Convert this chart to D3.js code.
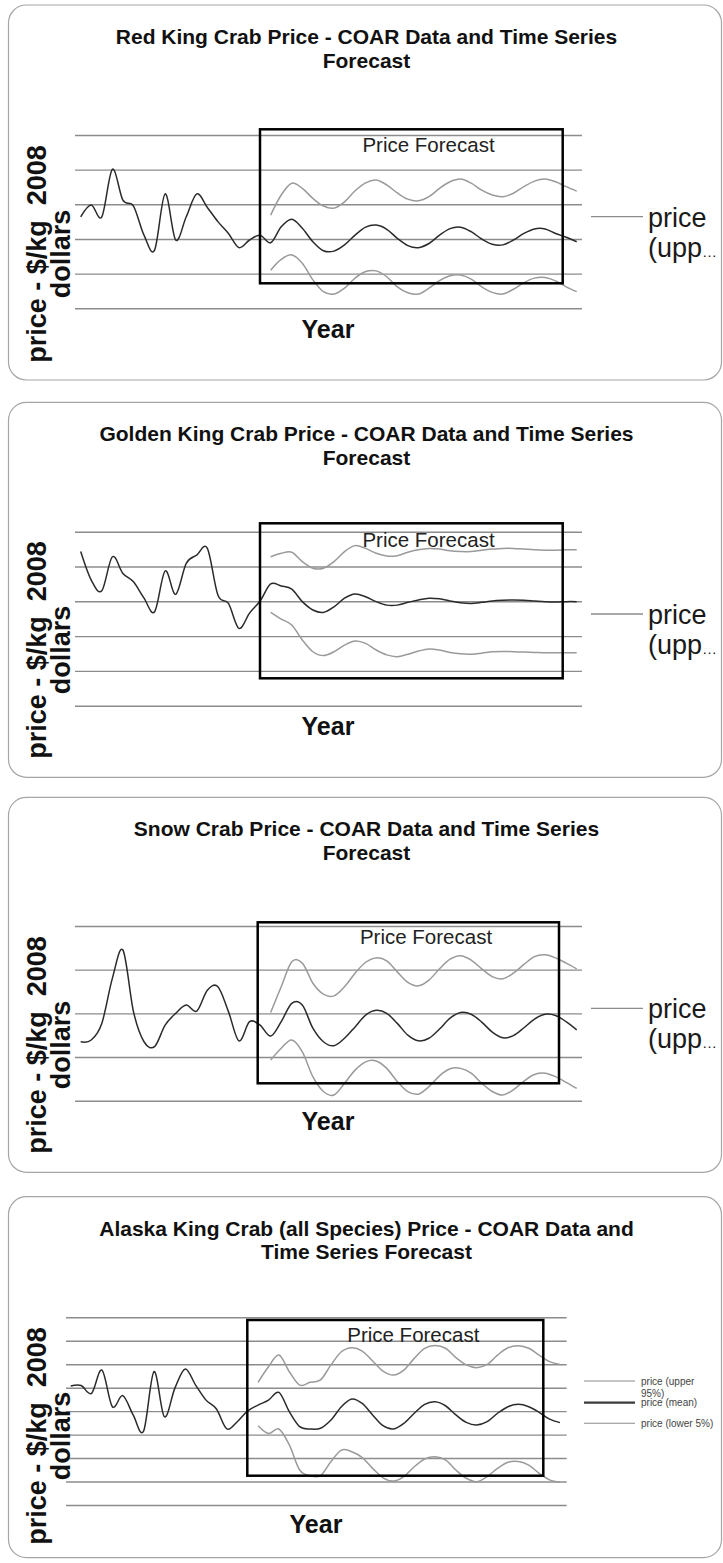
<!DOCTYPE html>
<html>
<head>
<meta charset="utf-8">
<script src="https://cdn.jsdelivr.net/npm/d3@7"></script>
<style>
  html, body { margin: 0; padding: 0; background: #fff; }
  svg { display: block; }
  text { font-family: "Liberation Sans", Arial, sans-serif; }
</style>
</head>
<body>
<svg id="chart" width="723" height="1563"></svg>
<script>
// ---------------- DATA (values in grid units; gridlines at tick values) ----------------
const years = d3.range(1990, 2038);          // 48 annual categories
const histYears = years.slice(0, 19);         // 1990 - 2008 (COAR data)
const meanFcYears = years.slice(19);          // 2009 - 2037 (forecast mean)
const bandYears = years.slice(18);            // 2008 - 2037 (upper / lower)

const redTicks = [0, 1, 2, 3, 4, 5];
const redHist = [2.64,2.98,2.64,4.01,3.12,2.95,2.11,1.68,3.30,1.97,2.64,3.30,2.91,2.50,2.16,1.75,1.97,2.11,1.89];
const redMean = [2.35,2.57,2.31,1.92,1.66,1.65,1.83,2.11,2.34,2.40,2.28,2.02,1.81,1.75,1.87,2.11,2.30,2.34,2.21,2.00,1.85,1.83,1.97,2.16,2.29,2.29,2.16,2.05,1.92];
const redUpper = [2.69,3.27,3.61,3.46,3.17,2.95,2.89,3.07,3.39,3.62,3.70,3.56,3.33,3.15,3.10,3.22,3.46,3.65,3.73,3.61,3.41,3.27,3.22,3.32,3.51,3.67,3.73,3.65,3.51,3.38];
const redLower = [1.10,1.41,1.54,1.30,0.82,0.48,0.41,0.58,0.87,1.06,1.08,0.91,0.62,0.45,0.41,0.58,0.80,0.94,0.96,0.84,0.62,0.46,0.41,0.55,0.74,0.87,0.89,0.79,0.62,0.48];

const goldenTicks = [0, 1, 2, 3, 4, 5];
const goldenHist = [4.43,3.61,3.30,4.28,3.80,3.56,3.09,2.70,3.87,3.20,4.09,4.33,4.52,3.18,2.94,2.22,2.66,3.01,3.50];
const goldenMean = [3.44,3.35,2.99,2.75,2.68,2.84,3.09,3.21,3.13,2.99,2.89,2.89,2.97,3.04,3.09,3.07,3.01,2.96,2.94,2.97,3.01,3.03,3.04,3.03,3.01,2.99,2.98,2.99,2.99];
const goldenUpper = [4.28,4.38,4.41,4.14,3.95,3.95,4.14,4.43,4.60,4.52,4.38,4.30,4.31,4.41,4.48,4.52,4.50,4.45,4.43,4.43,4.47,4.50,4.52,4.52,4.50,4.48,4.47,4.47,4.48,4.48];
const goldenLower = [2.68,2.49,2.32,1.89,1.55,1.44,1.55,1.74,1.86,1.79,1.60,1.46,1.41,1.48,1.57,1.63,1.60,1.53,1.49,1.48,1.51,1.55,1.56,1.55,1.54,1.53,1.52,1.52,1.52,1.52];

const snowTicks = [0, 1, 2, 3, 4];
const snowHist = [1.35,1.39,1.77,2.80,3.45,2.04,1.35,1.24,1.73,2.00,2.19,2.05,2.53,2.61,2.04,1.37,1.81,1.73,1.48];
const snowMean = [1.81,2.23,2.19,1.66,1.35,1.26,1.43,1.69,1.96,2.07,2.00,1.77,1.50,1.37,1.43,1.64,1.89,2.02,1.98,1.80,1.57,1.44,1.49,1.67,1.87,1.98,1.95,1.81,1.62];
const snowUpper = [2.02,2.61,3.18,3.15,2.69,2.44,2.40,2.61,2.92,3.17,3.27,3.20,2.95,2.71,2.63,2.76,3.02,3.24,3.32,3.22,3.02,2.84,2.79,2.92,3.12,3.30,3.34,3.27,3.15,3.02];
const snowLower = [0.93,1.20,1.39,1.12,0.55,0.21,0.13,0.40,0.70,0.89,0.91,0.74,0.44,0.21,0.15,0.32,0.57,0.73,0.74,0.63,0.40,0.21,0.13,0.25,0.45,0.60,0.63,0.55,0.42,0.28];

const alaskaTicks = [0, 1, 2, 3, 4, 5, 6, 7, 8];
const alaskaHist = [5.07,5.09,4.76,5.75,4.19,4.66,3.84,3.15,5.68,3.76,4.97,5.80,5.11,4.47,4.09,3.24,3.55,4.01,4.26];
const alaskaMean = [4.47,4.80,3.98,3.34,3.24,3.27,3.62,4.19,4.52,4.33,3.84,3.38,3.24,3.48,3.91,4.29,4.40,4.23,3.84,3.52,3.41,3.55,3.91,4.19,4.29,4.19,3.95,3.66,3.51];
const alaskaUpper = [5.23,5.89,6.39,5.68,5.11,5.23,5.33,5.97,6.53,6.70,6.56,6.14,5.71,5.54,5.75,6.25,6.68,6.80,6.68,6.28,5.97,5.85,5.99,6.39,6.70,6.79,6.68,6.39,6.11,5.99];
const alaskaLower = [3.38,3.05,3.24,2.56,1.49,1.25,1.25,1.85,2.34,2.27,2.02,1.56,1.16,1.02,1.21,1.63,1.96,2.06,1.92,1.49,1.14,0.99,1.21,1.56,1.82,1.85,1.70,1.35,1.07,0.97];

const titles = [
  ["Red King Crab Price - COAR Data and Time Series", "Forecast"],
  ["Golden King Crab Price - COAR Data and Time Series", "Forecast"],
  ["Snow Crab Price - COAR Data and Time Series", "Forecast"],
  ["Alaska King Crab (all Species) Price - COAR Data and", "Time Series Forecast"]
];
const yLabelLines = ["price - $/kg\u00a0\u00a02008", "dollars"];
const xLabel = "Year";
const boxLabel = "Price Forecast";
const legendShort = ["price", "(upp", "\u2026"];
const legendFull = ["price (upper", "95%)", "price (mean)", "price (lower 5%)"];

const series = [
  {ticks: redTicks, hist: redHist, mean: redMean, upper: redUpper, lower: redLower},
  {ticks: goldenTicks, hist: goldenHist, mean: goldenMean, upper: goldenUpper, lower: goldenLower},
  {ticks: snowTicks, hist: snowHist, mean: snowMean, upper: snowUpper, lower: snowLower},
  {ticks: alaskaTicks, hist: alaskaHist, mean: alaskaMean, upper: alaskaUpper, lower: alaskaLower}
];

// ---------------- LAYOUT ----------------
const layout = [
  {top: 5, h: 375, titleY: [44.3, 68.3], gTop: 135, gBot: 308.3, gx0: 75, gx1: 582, dx0: 80.7, dx1: 576.7,
   box: [260, 129.3, 562.7, 283.3], pf: [428.5, 152], ylabCy: 254, year: [328, 337.7], legY: 216.7},
  {top: 402.3, h: 375, titleY: [441, 465], gTop: 531.7, gBot: 705.7, gx0: 75, gx1: 582, dx0: 80.7, dx1: 576.7,
   box: [260, 523.3, 562.7, 678.3], pf: [428.5, 547.3], ylabCy: 650, year: [328, 735], legY: 614},
  {top: 797.3, h: 375, titleY: [836, 860], gTop: 926, gBot: 1100.7, gx0: 75, gx1: 582, dx0: 80.7, dx1: 576.7,
   box: [257.7, 922.3, 559, 1083.3], pf: [426, 944.3], ylabCy: 1045, year: [328, 1130], legY: 1008.3},
  {top: 1196.7, h: 361, titleY: [1235.7, 1259], gTop: 1317.3, gBot: 1505, gx0: 66, gx1: 566.7, dx0: 70.7, dx1: 560,
   box: [247.3, 1320, 543.3, 1475.7], pf: [413.3, 1342.3], ylabCy: 1436, year: [316, 1533.3], legYs: [1381, 1402.7, 1423.3]}
];

const svg = d3.select("#chart");
const curve = d3.curveCardinal.tension(0);

layout.forEach((L, i) => {
  const S = series[i];
  const g = svg.append("g");

  // panel frame
  g.append("rect")
    .attr("x", 8.5).attr("y", L.top).attr("width", 713).attr("height", L.h)
    .attr("rx", 18).attr("ry", 18)
    .attr("fill", "#fff").attr("stroke", "#a6a6a6").attr("stroke-width", 1.2);

  // title
  titles[i].forEach((t, k) => {
    g.append("text").attr("x", 366.5).attr("y", L.titleY[k])
      .attr("text-anchor", "middle").attr("font-size", 21).attr("font-weight", "bold")
      .attr("fill", "#111").text(t);
  });

  // scales
  const x = d3.scaleLinear().domain([years[0], years[years.length - 1]]).range([L.dx0, L.dx1]);
  const y = d3.scaleLinear().domain([S.ticks[0], S.ticks[S.ticks.length - 1]]).range([L.gBot, L.gTop]);

  // gridlines via axis
  const grid = g.append("g").attr("transform", `translate(${L.gx0},0)`)
    .call(d3.axisLeft(y).tickValues(S.ticks).tickSize(-(L.gx1 - L.gx0)).tickFormat(""));
  grid.select(".domain").remove();
  grid.selectAll(".tick line").attr("stroke", "#8c8c8c").attr("stroke-width", 1.4);

  // lines
  const line = d3.line().x(d => x(d[0])).y(d => y(d[1])).curve(curve);
  const meanPts = histYears.map((yr, k) => [yr, S.hist[k]]).concat(meanFcYears.map((yr, k) => [yr, S.mean[k]]));
  const upPts = bandYears.map((yr, k) => [yr, S.upper[k]]);
  const loPts = bandYears.map((yr, k) => [yr, S.lower[k]]);

  g.append("path").datum(upPts).attr("d", line).attr("fill", "none").attr("stroke", "#9a9a9a").attr("stroke-width", 1.5);
  g.append("path").datum(loPts).attr("d", line).attr("fill", "none").attr("stroke", "#9a9a9a").attr("stroke-width", 1.5);
  g.append("path").datum(meanPts).attr("d", line).attr("fill", "none").attr("stroke", "#2b2b2b").attr("stroke-width", 1.5);

  // forecast box
  g.append("rect").attr("x", L.box[0]).attr("y", L.box[1])
    .attr("width", L.box[2] - L.box[0]).attr("height", L.box[3] - L.box[1])
    .attr("fill", "none").attr("stroke", "#000").attr("stroke-width", 2.5);
  g.append("text").attr("x", L.pf[0]).attr("y", L.pf[1]).attr("text-anchor", "middle")
    .attr("font-size", 20.5).attr("fill", "#222").text(boxLabel);

  // y label
  const yl = g.append("text").attr("transform", `translate(0,${L.ylabCy}) rotate(-90)`)
    .attr("text-anchor", "middle").attr("font-size", 27).attr("font-weight", "bold").attr("fill", "#111")
    .style("white-space", "pre");
  yl.append("tspan").attr("x", 0).attr("y", 46).text(yLabelLines[0]);
  yl.append("tspan").attr("x", 0).attr("y", 70).text(yLabelLines[1]);

  // x label
  g.append("text").attr("x", L.year[0]).attr("y", L.year[1]).attr("text-anchor", "middle")
    .attr("font-size", 25).attr("font-weight", "bold").attr("fill", "#111").text(xLabel);

  // legend
  if (L.legYs) {
    const colors = ["#8c8c8c", "#3a3a3a", "#8c8c8c"];
    const widths = [1.1, 2.2, 1.1];
    L.legYs.forEach((ly, k) => {
      g.append("line").attr("x1", 584).attr("x2", 635).attr("y1", ly).attr("y2", ly)
        .attr("stroke", colors[k]).attr("stroke-width", widths[k]);
    });
    const t0 = g.append("text").attr("font-size", 10).attr("fill", "#444");
    t0.append("tspan").attr("x", 641).attr("y", L.legYs[0] + 4).text(legendFull[0]);
    t0.append("tspan").attr("x", 641).attr("y", L.legYs[0] + 15.5).text(legendFull[1]);
    g.append("text").attr("x", 641).attr("y", L.legYs[1] + 3.5).attr("font-size", 10).attr("fill", "#444").text(legendFull[2]);
    g.append("text").attr("x", 641).attr("y", L.legYs[2] + 3.5).attr("font-size", 10).attr("fill", "#444").text(legendFull[3]);
  } else {
    g.append("line").attr("x1", 591).attr("x2", 643).attr("y1", L.legY).attr("y2", L.legY)
      .attr("stroke", "#8c8c8c").attr("stroke-width", 1.3);
    g.append("text").attr("x", 648).attr("y", L.legY + 10).attr("font-size", 27).attr("fill", "#1a1a1a").text(legendShort[0]);
    const t2 = g.append("text").attr("x", 648).attr("y", L.legY + 40).attr("font-size", 27).attr("fill", "#1a1a1a");
    t2.append("tspan").text(legendShort[1]);
    t2.append("tspan").attr("font-size", 15).text(legendShort[2]);
  }
});
</script>
</body>
</html>
